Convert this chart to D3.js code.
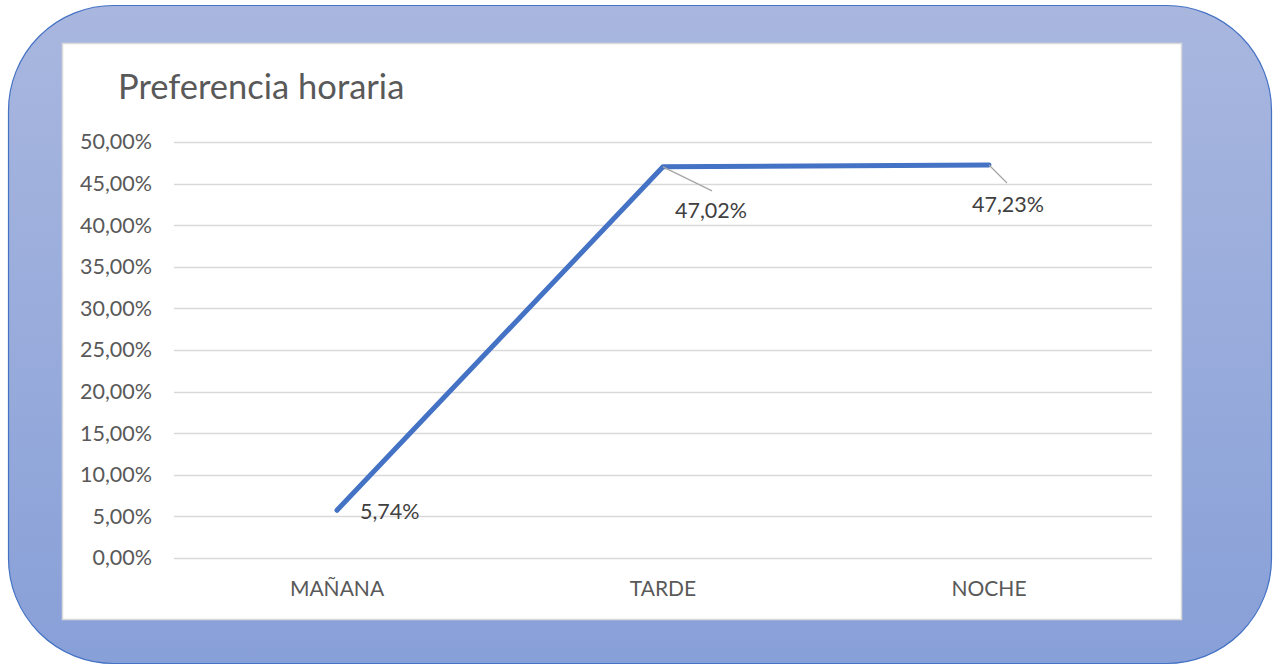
<!DOCTYPE html>
<html><head><meta charset="utf-8">
<script src="https://cdn.jsdelivr.net/npm/d3@7"></script>
<style>html,body{margin:0;padding:0;background:#fff;}svg{display:block;}</style>
</head><body>
<svg id="c" width="1274" height="666"></svg>
<script>
const categories = ["MAÑANA", "TARDE", "NOCHE"];
const values = [0.0574, 0.4702, 0.4723];
const valueLabels = ["5,74%", "47,02%", "47,23%"];
const yTicks = [0, 0.05, 0.10, 0.15, 0.20, 0.25, 0.30, 0.35, 0.40, 0.45, 0.50];
const title = "Preferencia horaria";

const svg = d3.select("#c");
const font = "Lato, 'Open Sans', sans-serif";
const defs = svg.append("defs");
const g = defs.append("linearGradient").attr("id","bg").attr("x1",0).attr("y1",0).attr("x2",0).attr("y2",1);
g.append("stop").attr("offset","0%").attr("stop-color","#a9b7df");
g.append("stop").attr("offset","100%").attr("stop-color","#88a0d8");

svg.append("rect").attr("x",8.5).attr("y",5.5).attr("width",1263).attr("height",658)
  .attr("rx",105).attr("ry",105).attr("fill","url(#bg)").attr("stroke","#4472c4").attr("stroke-width",1.2);

svg.append("rect").attr("x",62.5).attr("y",43.5).attr("width",1119).attr("height",576)
  .attr("fill","#fff").attr("stroke","#d9d9d9").attr("stroke-width",1.5);

const x = d3.scaleBand().domain(categories).range([174,1152]);
const y = d3.scaleLinear().domain([0,0.5]).range([558,142]);
const fmt = d => d3.format(".2f")(d*100).replace(".", ",") + "%";

const grid = svg.append("g");
grid.selectAll("line").data(yTicks).join("line")
  .attr("x1",174).attr("x2",1152).attr("y1",d=>Math.round(y(d))+0.5).attr("y2",d=>Math.round(y(d))+0.5)
  .attr("stroke","#d9d9d9").attr("stroke-width",1.5);

const yAxis = d3.axisLeft(y).tickValues(yTicks).tickFormat(fmt).tickSize(0).tickPadding(0);
const ya = svg.append("g").attr("transform","translate(152,0)").call(yAxis);
ya.select(".domain").remove();
ya.selectAll("text").attr("font-family",font).attr("font-size",21.5).attr("fill","#595959");

const xAxis = d3.axisBottom(x).tickSize(0).tickPadding(0);
const xa = svg.append("g").attr("transform","translate(0,0)").call(xAxis);
xa.select(".domain").remove();
xa.selectAll("text").attr("y",596).attr("dy",null).attr("font-family",font).attr("font-size",21).attr("fill","#595959");

svg.append("text").attr("x",118).attr("y",99).text(title)
  .attr("font-family",font).attr("font-size",34.5).attr("fill","#595959");

const line = d3.line().x((d,i)=>x(categories[i])+x.bandwidth()/2).y(d=>y(d));
svg.append("path").datum(values).attr("d",line).attr("fill","none")
  .attr("stroke","#4472c4").attr("stroke-width",5).attr("stroke-linecap","round").attr("stroke-linejoin","round");

// label offsets (relative to point)
const offs = [{dx:23,dy:9,lead:false},{dx:12,dy:51,lead:true,lx:49,ly:24},{dx:-17,dy:47,lead:true,lx:18,ly:18}];
values.forEach((v,i)=>{
  const px = x(categories[i])+x.bandwidth()/2, py = y(v);
  const o = offs[i];
  if(o.lead){
    svg.append("line").attr("x1",px).attr("y1",py).attr("x2",px+o.lx).attr("y2",py+o.ly)
      .attr("stroke","#a6a6a6").attr("stroke-width",1.3);
  }
  svg.append("text").attr("x",px+o.dx).attr("y",py+o.dy).text(valueLabels[i])
    .attr("font-family",font).attr("font-size",21.5).attr("fill","#404040");
});
</script>
</body></html>
